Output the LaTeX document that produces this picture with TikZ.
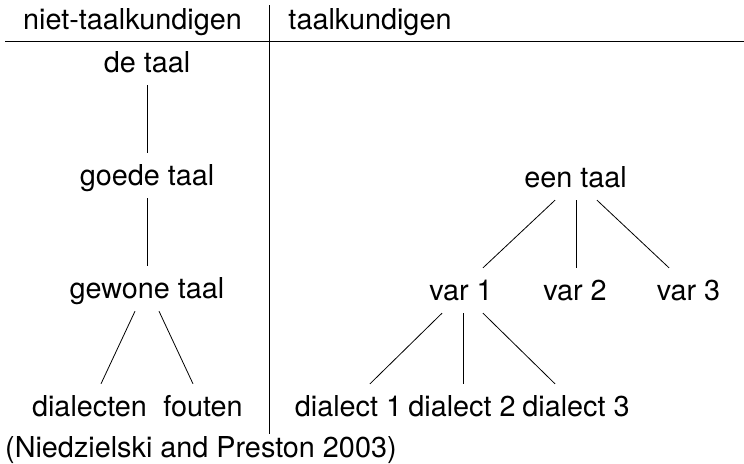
\documentclass[tikz,border=0pt]{standalone}
\usepackage{fontspec}
\setmainfont{TeX Gyre Heros}
\tikzset{
    woord/.style={anchor=base, inner sep=10pt, text height=22pt, text depth=3pt},
    tak/.style={line width=0.8pt},
    rand/.style={line width=1.2pt}
}
\begin{document}
\begin{tikzpicture}[x=1pt,y=-1pt,font=\fontsize{28.8}{34}\selectfont]
        \useasboundingbox (0,0) rectangle (744,463);

        \coordinate (links) at (5,41.7);
        \coordinate (rechts) at (744,41.7);
        \coordinate (boven) at (269.3,5);
        \coordinate (onder) at (269.3,434);
        \draw[rand] (links) -- (rechts);
        \draw[rand] (boven) -- (onder);

        \node[woord] (kop1) at (132.5,29) {niet-taalkundigen};
        \node[woord] (kop2) at (370,29) {taalkundigen};

        \node[woord] (de) at (147,72) {de taal};
        \node[woord] (goed) at (147,185) {goede taal};
        \node[woord] (gewoon) at (147,298) {gewone taal};
        \node[woord] (dial) at (89.5,416) {dialecten};
        \node[woord] (fout) at (203,416) {fouten};

        \draw[tak] (de.south) -- (goed.north);
        \draw[tak] (goed.south) -- (gewoon.north);
        \draw[tak] ([xshift=-12pt]gewoon.south) -- ([xshift=11.5pt]dial.north);
        \draw[tak] ([xshift=12pt]gewoon.south) -- ([xshift=-10pt]fout.north);

        \node[woord] (een) at (575.5,187) {een taal};
        \foreach \n/\x in {1/461,2/575,3/688.5}
            \node[woord] (var\n) at (\x,300) {var \n};
        \foreach \n/\x in {1/348.5,2/462,3/576}
            \node[woord] (dia\n) at (\x,416) {dialect \n};

        \foreach \n/\a/\b in {1/-20.5/22,2/0.5/1,3/21.5/-19.5}
            \draw[tak] ([xshift=\a pt]een.south) -- ([xshift=\b pt]var\n.north);
        \foreach \n/\a/\b in {1/-19/21.5,2/2/1,3/22/-21}
            \draw[tak] ([xshift=\a pt]var1.south) -- ([xshift=\b pt]dia\n.north);

        \node[anchor=base west, inner sep=0pt] (bron) at (5,457) {(Niedzielski and Preston 2003)};
\end{tikzpicture}
\end{document}
